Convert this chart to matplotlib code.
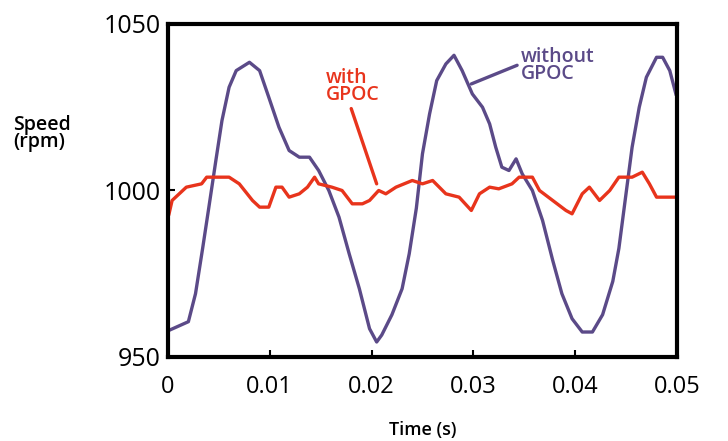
import matplotlib
matplotlib.use("Agg")
import matplotlib.pyplot as plt

plt.rcParams['font.family'] = ['Open Sans', 'DejaVu Sans']

# Without GPOC (purple)
t_without = [0.0001, 0.002, 0.0027, 0.0034, 0.004, 0.0047, 0.0053, 0.006, 0.0067, 0.008,
             0.009, 0.0099, 0.0109, 0.0119, 0.0129, 0.0139, 0.0148, 0.0158, 0.0168, 0.0178,
             0.0188, 0.0198, 0.0205, 0.021, 0.022, 0.023, 0.0237, 0.0244, 0.025, 0.0257,
             0.0264, 0.0273, 0.0281, 0.0289, 0.0299, 0.0309, 0.0316, 0.0322, 0.0328, 0.0335,
             0.0342, 0.0348, 0.0358, 0.0368, 0.0378, 0.0387, 0.0397, 0.0407, 0.0417, 0.0427,
             0.0437, 0.0443, 0.045, 0.0456, 0.0463, 0.047, 0.048, 0.0486, 0.0493, 0.0499]
v_without = [958, 960.6, 969, 982.6, 994.7, 1009, 1021, 1031, 1036, 1038.5,
             1036, 1028, 1019, 1012, 1010, 1010, 1006, 1000, 992, 981,
             970.5, 958.5, 954.5, 956.6, 962.7, 970.5, 981, 994.7, 1011, 1023,
             1033, 1038, 1040.6, 1036, 1029, 1025, 1020, 1013, 1007, 1006,
             1009.5, 1005, 1000, 991, 979, 969, 961.5, 957.5, 957.5, 962.7,
             972.7, 982.6, 999, 1013, 1025, 1034, 1040, 1040, 1036, 1029]

# With GPOC (red)
t_with = [0.0001, 0.0004, 0.0018, 0.0033, 0.0038, 0.006, 0.007, 0.0083, 0.009, 0.0099,
          0.0106, 0.0112, 0.0119, 0.0129, 0.0137, 0.0144, 0.0148, 0.0161, 0.0171, 0.0181,
          0.0191, 0.0198, 0.0207, 0.0214, 0.0224, 0.024, 0.025, 0.026, 0.0273, 0.0286,
          0.0298, 0.0306, 0.0316, 0.0325, 0.0338, 0.0345, 0.0358, 0.0365, 0.0378, 0.0391,
          0.0397, 0.0407, 0.0414, 0.0424, 0.0434, 0.0443, 0.0456, 0.0466, 0.0473, 0.048,
          0.0499]
v_with = [993, 997, 1001, 1002, 1004, 1004, 1002, 997, 995, 995,
          1001, 1001, 998, 999, 1001, 1004, 1002, 1001, 1000, 996,
          996, 997, 1000, 999, 1001, 1003, 1002, 1003, 999, 998,
          994, 999, 1001, 1000.5, 1002, 1004, 1004, 1000, 997, 994,
          993, 999, 1001, 997, 1000, 1004, 1004, 1005.5, 1002, 998,
          998]

x_ticks = [0, 0.01, 0.02, 0.03, 0.04, 0.05]
x_tick_labels = ['0', '0.01', '0.02', '0.03', '0.04', '0.05']
y_ticks = [950, 1000, 1050]

purple = '#5b4a88'
red = '#e8341c'

fig = plt.figure(figsize=(7.28, 4.41), dpi=100)
ax = fig.add_axes([0.2308, 0.1905, 0.699, 0.7551])

ax.plot(t_without, v_without, color=purple, lw=2.4)
ax.plot(t_with, v_with, color=red, lw=2.4)

ax.set_xlim(0, 0.05)
ax.set_ylim(950, 1050)
ax.set_xticks(x_ticks)
ax.set_xticklabels(x_tick_labels)
ax.set_yticks(y_ticks)
ax.tick_params(direction='in', length=5, width=1.5, labelsize=17, pad=13)
ax.tick_params(axis='y', pad=5, labelsize=18)
for s in ax.spines.values():
    s.set_linewidth(3)

ax.set_xlabel('Time (s)', fontsize=13, fontweight='semibold', labelpad=16)
fig.text(0.018, 0.698, 'Speed\n(rpm)', fontsize=14, fontweight='semibold',
         ha='left', va='center', linespacing=0.8)

# "with GPOC" label and leader line
ax.text(0.0155, 1031.3, 'with\nGPOC', color=red, fontsize=14, fontweight='semibold',
        ha='left', va='center', linespacing=0.8, multialignment='left')
ax.annotate('', xy=(0.0205, 1002), xytext=(0.0180, 1024.6),
            arrowprops=dict(arrowstyle='-', color=red, lw=2.4, shrinkA=0, shrinkB=0))

# "without GPOC" label and leader line
ax.text(0.0347, 1037.6, 'without\nGPOC', color=purple, fontsize=14, fontweight='semibold',
        ha='left', va='center', linespacing=0.8, multialignment='left')
ax.annotate('', xy=(0.0298, 1032), xytext=(0.0343, 1037.6),
            arrowprops=dict(arrowstyle='-', color=purple, lw=2.4, shrinkA=0, shrinkB=0))

fig.savefig('out.png', dpi=100)
